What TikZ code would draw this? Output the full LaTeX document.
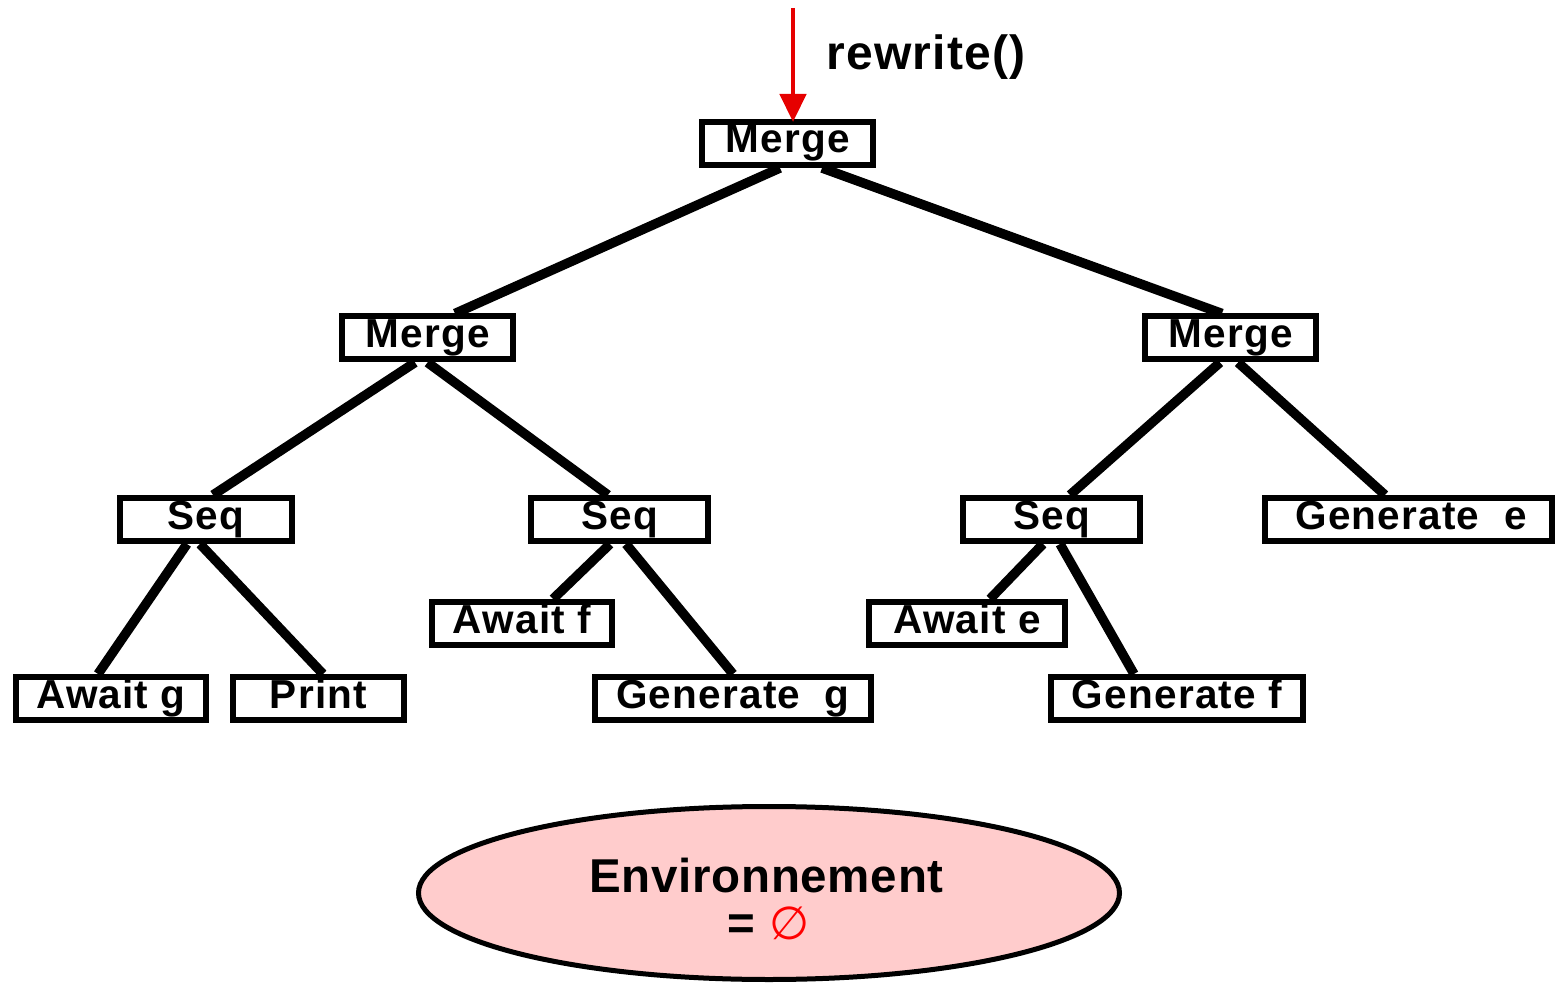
\documentclass[tikz,border=0pt]{standalone}
\usepackage{fontspec}
\setmainfont{Liberation Sans}
\newfontfamily\dejavu{DejaVu Sans}
\usetikzlibrary{arrows.meta,shapes.geometric}
\definecolor{envpink}{HTML}{FFCCCC}
\definecolor{arrred}{HTML}{E60000}
\pgfdeclarelayer{bg}
\pgfsetlayers{bg,main}
\begin{document}
\begin{tikzpicture}[x=1pt,y=-1pt,
  box/.style={draw=black, line width=6pt, fill=white, inner sep=0pt,
    minimum height=43pt, text height=29pt, text depth=10pt,
    font=\fontsize{40.5}{44}\selectfont\bfseries\addfontfeatures{LetterSpace=3}},
  edge/.style={line width=9.5pt, black},
  envtext/.style={inner sep=0pt, anchor=base, font=\fontsize{47.5}{50}\selectfont\bfseries\addfontfeatures{LetterSpace=1.5}},
]
\useasboundingbox (0,0) rectangle (1556,984);
% tree nodes
\node[box, minimum width=171pt] (m0) at (787.5,143.5) {Merge};
\node[box, minimum width=171pt] (m1) at (427.5,338) {Merge};
\node[box, minimum width=171pt] (m2) at (1230.5,338) {Merge};
\node[box, minimum width=172pt] (s1) at (206,519.5) {Seq};
\node[box, minimum width=177pt] (s2) at (619.5,519.5) {Seq};
\node[box, minimum width=177pt] (s3) at (1051.5,519.5) {Seq};
\node[box, minimum width=287pt] (ge) at (1408.5,519.5) {\hspace{5pt}Generate\hspace{0.3em} e};
\node[box, minimum width=180pt] (af) at (522,623.5) {Await f};
\node[box, minimum width=196pt] (ae) at (967,623.5) {Await e};
\node[box, minimum width=190pt] (ag) at (111,698.5) {Await g};
\node[box, minimum width=171pt] (pr) at (318.5,698.5) {Print};
\node[box, minimum width=276pt] (gg) at (733,698.5) {Generate\hspace{0.3em} g};
\node[box, minimum width=252pt] (gf) at (1177,698.5) {Generate f};
% edges
\begin{pgfonlayer}{bg}
\draw[edge] ([xshift=-7.5pt]m0.south) -- ([xshift=27.5pt]m1.north);
\draw[edge] ([xshift=34.5pt]m0.south) -- ([xshift=-8.5pt]m2.north);
\draw[edge] ([xshift=-12.5pt]m1.south) -- ([xshift=7pt]s1.north);
\draw[edge] (m1.south) -- ([xshift=-11.5pt]s2.north);
\draw[edge] ([xshift=-10.5pt]m2.south) -- ([xshift=18.5pt]s3.north);
\draw[edge] ([xshift=7.5pt]m2.south) -- ([xshift=-23.5pt]ge.north);
\draw[edge] ([xshift=-19pt]s1.south) -- ([xshift=-13pt]ag.north);
\draw[edge] ([xshift=-6pt]s1.south) -- ([xshift=4.5pt]pr.north);
\draw[edge] ([xshift=-9.5pt]s2.south) -- ([xshift=31pt]af.north);
\draw[edge] ([xshift=6.5pt]s2.south) -- (gg.north);
\draw[edge] ([xshift=-8.5pt]s3.south) -- ([xshift=23pt]ae.north);
\draw[edge] ([xshift=8.5pt]s3.south) -- ([xshift=-43pt]gf.north);
\end{pgfonlayer}
% rewrite arrow
\coordinate (arrstart) at (793,8);
\draw[arrred, line width=4.5pt, -{Triangle[width=26pt,length=28pt]}]
  (arrstart) -- ([xshift=5.5pt,yshift=-3pt]m0.north);
\node[anchor=base west, inner sep=0pt,
  font=\fontsize{48}{52}\selectfont\bfseries\addfontfeatures{LetterSpace=2.7}]
  (rw) at (826,70) {rewrite()};
% environment
\node[ellipse, draw=black, line width=5pt, fill=envpink, inner sep=0pt,
  minimum width=701pt, minimum height=173pt] (env) at (769,893) {};
\node[envtext] (envt1) at (766.5,892) {Environnement};
\node[envtext] (envt2) at (769,939) {=\hspace{0.3em}\textcolor{red}{\dejavu\mdseries\fontsize{46}{46}\selectfont ∅}};
\end{tikzpicture}
\end{document}
